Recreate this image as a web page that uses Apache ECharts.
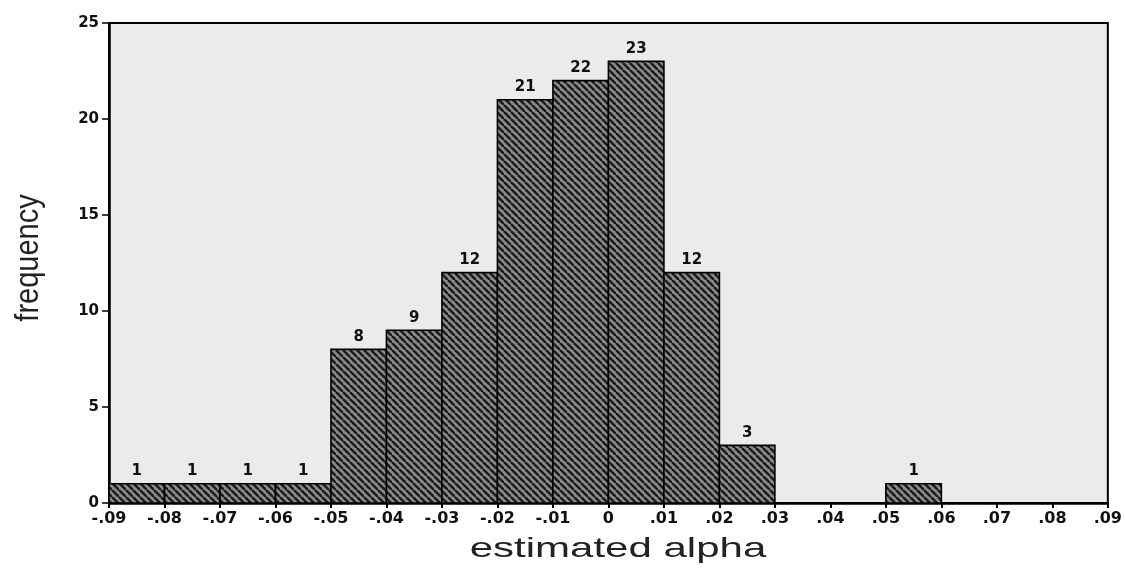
<!DOCTYPE html>
<html>
<head>
<meta charset="utf-8">
<script src="https://cdn.jsdelivr.net/npm/echarts@6/dist/echarts.min.js"></script>
<style>
html,body{margin:0;padding:0;background:#fff;}
#chart{width:1125px;height:571px;}
</style>
</head>
<body>
<div id="chart"></div>
<script>
// bin start (in hundredths of alpha), each bin is 1 hundredth wide
const binStart = [-9, -8, -7, -6, -5, -4, -3, -2, -1, 0, 1, 2, 5];
const counts   = [ 1,  1,  1,  1,  8,  9, 12, 21, 22, 23, 12, 3, 1];
const binWidth = 1;
const xTickLabels = ['-.09','-.08','-.07','-.06','-.05','-.04','-.03','-.02','-.01','0',
                     '.01','.02','.03','.04','.05','.06','.07','.08','.09'];
const yTickLabels = ['0','5','10','15','20','25'];

function makeHatch(){
  const c = document.createElement('canvas');
  c.width = 7; c.height = 7;
  const g = c.getContext('2d');
  g.fillStyle = '#8a8a8a';
  g.fillRect(0,0,7,7);
  g.strokeStyle = '#1a1a1a';
  g.lineWidth = 2.4;
  for (const k of [-7, 0, 7]) {
    g.beginPath(); g.moveTo(k, 0); g.lineTo(k + 7, 7); g.stroke();
  }
  return c;
}
const hatch = makeHatch();

const data = binStart.map((s, i) => [s, s + binWidth, counts[i]]);

const chart = echarts.init(document.getElementById('chart'), null, {renderer:'canvas'});
chart.setOption({
  animation: false,
  backgroundColor: '#ffffff',
  grid: {
    left: 109, right: 9, top: 23, bottom: 68,
    show: true, backgroundColor: '#ebebeb', borderColor: '#000', borderWidth: 2
  },
  xAxis: {
    type: 'value', min: -9, max: 9, interval: 1,
    axisLine: {show: true, onZero: false, lineStyle: {color: '#000', width: 2.5}},
    axisTick: {show: true, inside: false, length: 5, lineStyle: {color: '#000', width: 2}},
    splitLine: {show: false},
    axisLabel: {
      margin: 8, color: '#111', fontFamily: 'DejaVu Sans', fontWeight: 'bold', fontSize: 16,
      formatter: v => xTickLabels[Math.round(v) + 9]
    }
  },
  yAxis: {
    type: 'value', min: 0, max: 25, interval: 5,
    axisLine: {show: true, onZero: false, lineStyle: {color: '#000', width: 2.5}},
    axisTick: {show: true, inside: false, length: 7, lineStyle: {color: '#000', width: 1.5}},
    splitLine: {show: false},
    axisLabel: {
      margin: 10, color: '#111', fontFamily: 'DejaVu Sans', fontWeight: 'bold', fontSize: 15,
      formatter: v => yTickLabels[Math.round(v / 5)]
    }
  },
  graphic: [
    {
      type: 'text', x: 618, y: 549,
      style: {text: 'estimated alpha', font: '28px "Liberation Sans", Arial, sans-serif',
               fill: '#222', textAlign: 'center', textVerticalAlign: 'middle'},
      scaleX: 1.5
    },
    {
      type: 'text', x: 29, y: 258, rotation: Math.PI / 2,
      style: {text: 'frequency', font: '29px "Liberation Sans", Arial, sans-serif',
               fill: '#222', textAlign: 'center', textVerticalAlign: 'middle'},
      scaleY: 1.15
    }
  ],
  series: [{
    type: 'custom',
    data: data,
    encode: {x: [0, 1], y: 2},
    renderItem: function (params, api) {
      const lo = api.value(0), hi = api.value(1), v = api.value(2);
      const p0 = api.coord([lo, v]);
      const p1 = api.coord([hi, 0]);
      return {
        type: 'group',
        children: [
          {
            type: 'rect',
            shape: {x: p0[0], y: p0[1], width: p1[0] - p0[0], height: p1[1] - p0[1]},
            style: {fill: {image: hatch, repeat: 'repeat'}, stroke: '#000', lineWidth: 1.6}
          },
          {
            type: 'text',
            x: (p0[0] + p1[0]) / 2, y: p0[1] - 5,
            style: {text: String(v), textAlign: 'center', textVerticalAlign: 'bottom',
                    font: 'bold 15px "DejaVu Sans", sans-serif', fill: '#111'}
          }
        ]
      };
    }
  }]
});
</script>
</body>
</html>
